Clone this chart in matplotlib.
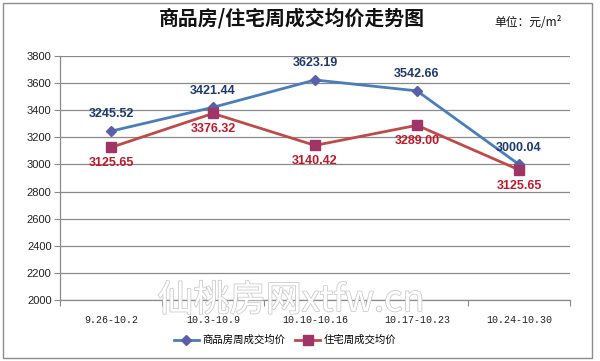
import matplotlib
matplotlib.use("Agg")
import matplotlib.pyplot as plt
from matplotlib.patches import Rectangle
import matplotlib.patheffects as pe

plt.rcParams['font.family'] = ['Noto Sans CJK SC', 'DejaVu Sans']

categories = ["9.26-10.2", "10.3-10.9", "10.10-10.16", "10.17-10.23", "10.24-10.30"]
series1_name = "商品房周成交均价"
series2_name = "住宅周成交均价"
series1 = [3245.52, 3421.44, 3623.19, 3542.66, 3000.04]
series2 = [3125.65, 3376.32, 3140.42, 3289.00, 2960.00]
labels1 = ["3245.52", "3421.44", "3623.19", "3542.66", "3000.04"]
labels2 = ["3125.65", "3376.32", "3140.42", "3289.00", "3125.65"]
yticks = [2000, 2200, 2400, 2600, 2800, 3000, 3200, 3400, 3600, 3800]

W, H = 600, 361
fig = plt.figure(figsize=(W / 100, H / 100), dpi=100)
fig.patch.set_facecolor("white")
fig.patches.append(Rectangle((3 / W, 3 / H), 589 / W, 355 / H, transform=fig.transFigure,
                             fill=False, edgecolor="#8c8c8c", lw=1.0))

ax = fig.add_axes([60 / W, 1 - 300 / H, 510 / W, 244 / H])
ax.set_facecolor("none")
x = [i + 0.5 for i in range(len(categories))]

ax.set_xlim(0, len(categories))
ax.set_ylim(yticks[0], yticks[-1])
ax.set_yticks(yticks)
ax.set_yticklabels([str(v) for v in yticks], fontsize=8, family='Liberation Sans', color="#222222")
ax.yaxis.grid(True, color="#8a8a8a", lw=0.9)
ax.set_axisbelow(True)
for s in ["top", "right"]:
    ax.spines[s].set_visible(False)
for s in ["left", "bottom"]:
    ax.spines[s].set_color("#8a8a8a")
    ax.spines[s].set_linewidth(0.9)
ax.tick_params(axis='y', length=4, color="#8a8a8a", pad=2)
ax.set_xticks(range(len(categories) + 1))
ax.set_xticklabels([])
ax.tick_params(axis='x', which='major', length=4, color="#8a8a8a")
ax.set_xticks(x, minor=True)
ax.set_xticklabels(categories, minor=True, fontsize=7.2, family='Liberation Mono', color="#222222")
ax.tick_params(axis='x', which='minor', length=0, pad=11)

# watermark
fig.text(291 / W, 1 - 301 / H, "仙桃房网xtfw.cn", fontsize=26, color="white", ha="center", va="center",
         path_effects=[pe.withStroke(linewidth=1.1, foreground="#c8c8c8")], zorder=1)

ax.plot(x, series1, color="#4A7EBB", lw=2, marker="D", ms=5.5, mfc="#5A5FA8", mec="#5A5FA8",
        label=series1_name, zorder=3)
ax.plot(x, series2, color="#BE4B48", lw=2, marker="s", ms=7, mfc="#9E3566", mec="#9E3566",
        label=series2_name, zorder=3)

for xi, yi, t in zip(x, series1, labels1):
    ax.annotate(t, (xi, yi), xytext=(0, 12), textcoords="offset points", ha="center", va="center",
                fontsize=9, fontweight="bold", color="#1F3A6E", family='Liberation Sans', zorder=4)
for xi, yi, t in zip(x, series2, labels2):
    ax.annotate(t, (xi, yi), xytext=(0, -11.5), textcoords="offset points", ha="center", va="center",
                fontsize=9, fontweight="bold", color="#C0192B", family='Liberation Sans', zorder=4)

fig.text(292 / W, 1 - 18 / H, "商品房/住宅周成交均价走势图", fontsize=14.3, fontweight="bold",
         ha="center", va="center", color="#111111")
fig.text(528 / W, 1 - 22 / H, "单位：元/m²", fontsize=8.5, ha="center", va="center", color="#111111")

fig.legend(loc="center", bbox_to_anchor=(285 / W, 1 - 340 / H), ncol=2, frameon=False,
           fontsize=7.5, handlelength=2.4, columnspacing=1.0, handletextpad=0.3)

fig.savefig("out.png", dpi=100)
